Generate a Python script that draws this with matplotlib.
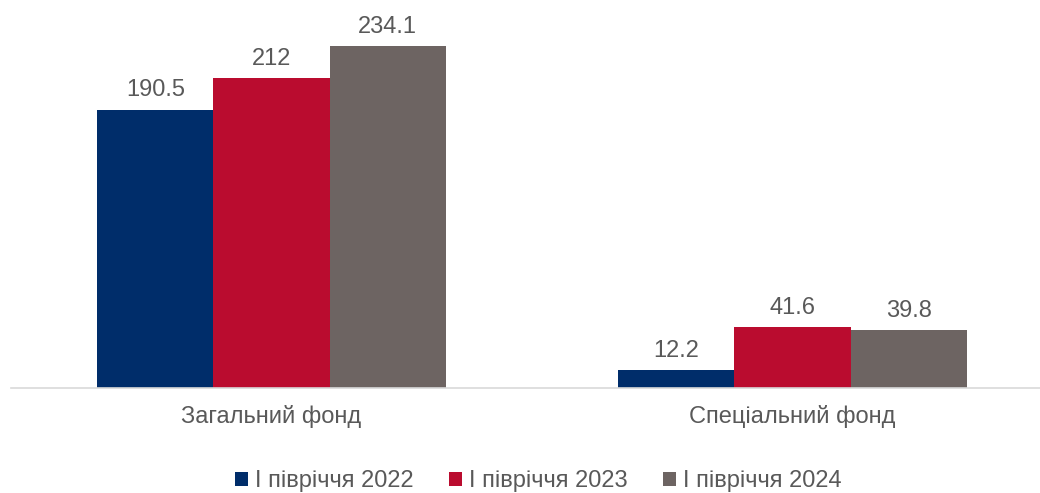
import matplotlib

matplotlib.use("Agg")

import matplotlib.pyplot as plt
import numpy as np
from matplotlib.patches import Patch

categories = ["Загальний фонд", "Спеціальний фонд"]
series_names = ["І півріччя 2022", "І півріччя 2023", "І півріччя 2024"]
values_2022 = [190.5, 12.2]
values_2023 = [212, 41.6]
values_2024 = [234.1, 39.8]

COLORS = ["#002D6A", "#BA0C2F", "#6D6462"]
TEXT_COLOR = "#595959"
FONT_SIZE = 17

plt.rcParams["font.family"] = ["Liberation Sans", "DejaVu Sans"]

fig = plt.figure(figsize=(10.4, 4.93), dpi=100)
ax = fig.add_axes([11 / 1040, 105 / 493, 1029 / 1040, 378 / 493])

x = np.arange(len(categories))
width = 0.223
all_values = [values_2022, values_2023, values_2024]
for i, (vals, color) in enumerate(zip(all_values, COLORS)):
    bars = ax.bar(x + (i - 1) * width, vals, width, color=color, zorder=2)
    for bar, v in zip(bars, vals):
        label = f"{v:g}"
        ax.annotate(label, (bar.get_x() + bar.get_width() / 2, v),
                    xytext=(0, 6), textcoords="offset points",
                    ha="center", va="bottom", fontsize=FONT_SIZE, color=TEXT_COLOR)

ax.set_xlim(-0.5, (1040 - 271.5) / 521)
ax.set_ylim(0, 258.7)
ax.set_yticks([])
ax.set_xticks(x)
ax.set_xticklabels(categories, fontsize=FONT_SIZE, color=TEXT_COLOR)
ax.tick_params(axis="x", length=0, pad=12)
for side in ["top", "right", "left"]:
    ax.spines[side].set_visible(False)
ax.spines["bottom"].set_color("#D9D9D9")
ax.spines["bottom"].set_linewidth(1.2)

handles = [Patch(facecolor=c) for c in COLORS]
fig.legend(handles, series_names, loc="center", bbox_to_anchor=(538 / 1040, 1 - 481 / 493),
           ncol=3, frameon=False, fontsize=FONT_SIZE, labelcolor=TEXT_COLOR,
           handlelength=0.55, handleheight=0.55, handletextpad=0.3, columnspacing=1.5,
           borderpad=0)

fig.savefig("out.png", dpi=100, facecolor="white")
